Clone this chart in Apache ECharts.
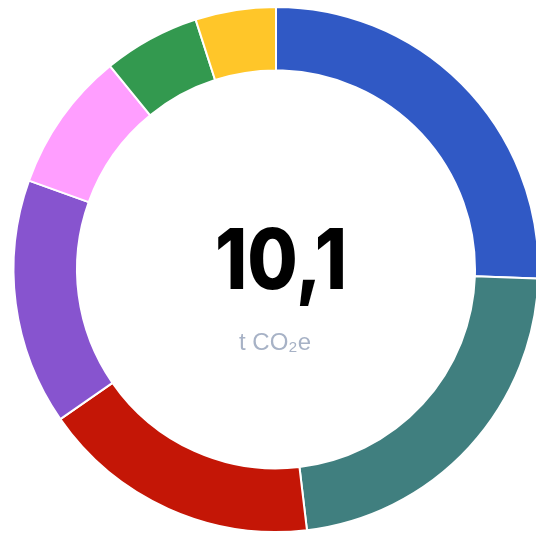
<!DOCTYPE html>
<html><head><meta charset="utf-8">
<script src="https://cdn.jsdelivr.net/npm/echarts@6/dist/echarts.min.js"></script>
<style>html,body{margin:0;padding:0;background:#fff}#c{width:536px;height:535px}</style>
</head><body><div id="c"></div>
<script>
const categories = ['A','B','C','D','E','F','G'];
const values = [2.58, 2.28, 1.74, 1.53, 0.87, 0.60, 0.50];
const colors = ['#3059C5','#407F7F','#C41606','#8754CF','#FF9EFF','#33994F','#FFC629'];
const totalLabel = '10,1';
const unitLabel = 't CO\u2082e';

const chart = echarts.init(document.getElementById('c'), null, {renderer:'canvas'});
chart.setOption({
  animation:false,
  series:[{
    type:'pie',
    center:[276,269.5],
    radius:[199,262.5],
    startAngle:90,
    clockwise:true,
    label:{show:false},
    labelLine:{show:false},
    itemStyle:{borderColor:'#fff',borderWidth:2},
    data: categories.map((c,i)=>({name:c,value:values[i],itemStyle:{color:colors[i]}}))
  }],
  graphic:[
    {type:'text',x:281,y:264,scaleX:0.87,style:{text:totalLabel,fill:'#000',font:'800 84px Inter',textAlign:'center',textVerticalAlign:'middle'}},
    {type:'text',x:275,y:343,style:{text:unitLabel,fill:'#A7B2C6',font:'400 24px "Liberation Sans"',textAlign:'center',textVerticalAlign:'middle'}}
  ]
});
</script></body></html>
